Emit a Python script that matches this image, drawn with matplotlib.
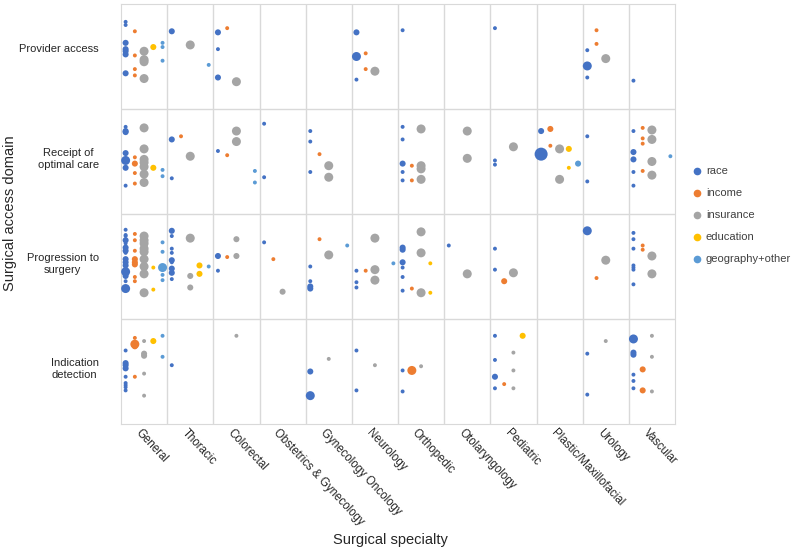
import matplotlib
matplotlib.use("Agg")
import matplotlib.pyplot as plt
from matplotlib.lines import Line2D

plt.rcParams['font.family'] = ['Liberation Sans', 'DejaVu Sans']

specialties = ["General", "Thoracic", "Colorectal", "Obstetrics & Gynecology",
               "Gynecology Oncology", "Neurology", "Orthopedic", "Otolaryngology",
               "Pediatric", "Plastic/Maxillofacial", "Urology", "Vascular"]
domains = ["Indication\ndetection", "Progression to\nsurgery",
           "Receipt of\noptimal care", "Provider access"]
domain_label_y = [0.54, 1.54, 2.54, 3.58]

categories = ["race", "income", "insurance", "education", "geography+other"]
colors = ["#4472C4", "#ED7D31", "#A5A5A5", "#FFC000", "#5B9BD5"]
cat_offset = [0.1, 0.3, 0.5, 0.7, 0.9]
size_area = {1: 8, 2: 19, 3: 42, 5: 88}

# (specialty, y position, size class)
race = [
    # provider access
    ("General", 3.83, 1), ("General", 3.80, 1), ("General", 3.63, 2), ("General", 3.57, 2),
    ("General", 3.55, 2), ("General", 3.52, 2), ("General", 3.34, 2),
    ("Thoracic", 3.74, 2), ("Colorectal", 3.73, 2), ("Colorectal", 3.57, 1), ("Colorectal", 3.30, 2),
    ("Neurology", 3.73, 2), ("Neurology", 3.50, 3), ("Neurology", 3.28, 1),
    ("Orthopedic", 3.75, 1), ("Pediatric", 3.77, 1),
    ("Urology", 3.56, 1), ("Urology", 3.41, 3), ("Urology", 3.30, 1), ("Vascular", 3.27, 1),
    # receipt of optimal care
    ("General", 2.83, 1), ("General", 2.79, 2), ("General", 2.78, 2), ("General", 2.58, 2),
    ("General", 2.51, 3), ("General", 2.44, 2), ("General", 2.27, 1),
    ("Thoracic", 2.71, 2), ("Thoracic", 2.34, 1), ("Colorectal", 2.60, 1),
    ("Obstetrics & Gynecology", 2.86, 1), ("Obstetrics & Gynecology", 2.35, 1),
    ("Gynecology Oncology", 2.79, 1), ("Gynecology Oncology", 2.69, 1), ("Gynecology Oncology", 2.40, 1),
    ("Orthopedic", 2.83, 1), ("Orthopedic", 2.71, 1), ("Orthopedic", 2.48, 2),
    ("Orthopedic", 2.40, 1), ("Orthopedic", 2.32, 1),
    ("Pediatric", 2.51, 1), ("Pediatric", 2.47, 1),
    ("Plastic/Maxillofacial", 2.79, 2), ("Plastic/Maxillofacial", 2.57, 5),
    ("Urology", 2.74, 1), ("Urology", 2.31, 1),
    ("Vascular", 2.79, 1), ("Vascular", 2.59, 2), ("Vascular", 2.52, 2),
    ("Vascular", 2.40, 1), ("Vascular", 2.27, 1),
    # progression to surgery
    ("General", 1.85, 1), ("General", 1.80, 1), ("General", 1.79, 1), ("General", 1.75, 2),
    ("General", 1.72, 1), ("General", 1.68, 2), ("General", 1.65, 2), ("General", 1.63, 1),
    ("General", 1.57, 2), ("General", 1.54, 2), ("General", 1.51, 2), ("General", 1.45, 3),
    ("General", 1.41, 2), ("General", 1.36, 1), ("General", 1.29, 3),
    ("Thoracic", 1.84, 2), ("Thoracic", 1.79, 1), ("Thoracic", 1.67, 1), ("Thoracic", 1.63, 1),
    ("Thoracic", 1.56, 2), ("Thoracic", 1.54, 1), ("Thoracic", 1.48, 2), ("Thoracic", 1.44, 2),
    ("Thoracic", 1.38, 1),
    ("Colorectal", 1.60, 2), ("Colorectal", 1.46, 1), ("Obstetrics & Gynecology", 1.73, 1),
    ("Gynecology Oncology", 1.50, 1), ("Gynecology Oncology", 1.36, 1),
    ("Gynecology Oncology", 1.31, 2), ("Gynecology Oncology", 1.29, 2),
    ("Neurology", 1.46, 1), ("Neurology", 1.35, 1), ("Neurology", 1.30, 1),
    ("Orthopedic", 1.68, 2), ("Orthopedic", 1.66, 2), ("Orthopedic", 1.54, 2),
    ("Orthopedic", 1.49, 1), ("Orthopedic", 1.40, 1), ("Orthopedic", 1.27, 1),
    ("Otolaryngology", 1.70, 1), ("Pediatric", 1.67, 1), ("Pediatric", 1.47, 1),
    ("Urology", 1.84, 3),
    ("Vascular", 1.82, 1), ("Vascular", 1.76, 1), ("Vascular", 1.67, 1), ("Vascular", 1.51, 1),
    ("Vascular", 1.49, 1), ("Vascular", 1.47, 1), ("Vascular", 1.33, 1),
    # indication detection
    ("General", 0.70, 1), ("General", 0.58, 2), ("General", 0.56, 2), ("General", 0.53, 2),
    ("General", 0.45, 1), ("General", 0.39, 1), ("General", 0.37, 1), ("General", 0.35, 1),
    ("General", 0.32, 1), ("Thoracic", 0.56, 1),
    ("Gynecology Oncology", 0.50, 2), ("Gynecology Oncology", 0.27, 3),
    ("Neurology", 0.70, 1), ("Neurology", 0.32, 1), ("Orthopedic", 0.51, 1), ("Orthopedic", 0.31, 1),
    ("Pediatric", 0.84, 1), ("Pediatric", 0.61, 1), ("Pediatric", 0.45, 2), ("Pediatric", 0.34, 1),
    ("Urology", 0.67, 1), ("Urology", 0.28, 1),
    ("Vascular", 0.81, 3), ("Vascular", 0.68, 2), ("Vascular", 0.66, 2), ("Vascular", 0.47, 1),
    ("Vascular", 0.41, 1), ("Vascular", 0.34, 1),
]

income = [
    ("General", 3.74, 1), ("General", 3.51, 1), ("General", 3.38, 1), ("General", 3.32, 1),
    ("Colorectal", 3.77, 1), ("Neurology", 3.53, 1), ("Neurology", 3.38, 1),
    ("Urology", 3.75, 1), ("Urology", 3.62, 1),
    ("General", 2.54, 1), ("General", 2.48, 2), ("General", 2.39, 1), ("General", 2.29, 1),
    ("Thoracic", 2.74, 1), ("Colorectal", 2.56, 1), ("Gynecology Oncology", 2.57, 1),
    ("Orthopedic", 2.46, 1), ("Orthopedic", 2.32, 1),
    ("Plastic/Maxillofacial", 2.81, 2), ("Plastic/Maxillofacial", 2.65, 1),
    ("Vascular", 2.82, 1), ("Vascular", 2.72, 1), ("Vascular", 2.67, 1), ("Vascular", 2.41, 1),
    ("General", 1.81, 1), ("General", 1.75, 1), ("General", 1.65, 1), ("General", 1.57, 2),
    ("General", 1.54, 2), ("General", 1.52, 2), ("General", 1.40, 1), ("General", 1.36, 1),
    ("Colorectal", 1.59, 1), ("Obstetrics & Gynecology", 1.57, 1), ("Gynecology Oncology", 1.76, 1),
    ("Neurology", 1.46, 1), ("Orthopedic", 1.29, 1), ("Pediatric", 1.36, 2),
    ("Urology", 1.39, 1), ("Vascular", 1.70, 1), ("Vascular", 1.66, 1),
    ("General", 0.82, 1), ("General", 0.76, 3), ("General", 0.74, 2), ("General", 0.45, 1),
    ("Orthopedic", 0.51, 3), ("Pediatric", 0.38, 1), ("Vascular", 0.52, 2), ("Vascular", 0.32, 2),
]

insurance = [
    ("General", 3.55, 3), ("General", 3.47, 3), ("General", 3.45, 3), ("General", 3.29, 3),
    ("Thoracic", 3.61, 3), ("Colorectal", 3.26, 3), ("Neurology", 3.36, 3), ("Urology", 3.48, 3),
    ("General", 2.82, 3), ("General", 2.62, 3), ("General", 2.52, 3), ("General", 2.49, 3),
    ("General", 2.45, 3), ("General", 2.38, 3), ("General", 2.30, 3),
    ("Thoracic", 2.55, 3), ("Colorectal", 2.79, 3), ("Colorectal", 2.69, 3),
    ("Gynecology Oncology", 2.46, 3), ("Gynecology Oncology", 2.35, 3),
    ("Orthopedic", 2.81, 3), ("Orthopedic", 2.46, 3), ("Orthopedic", 2.43, 3), ("Orthopedic", 2.33, 3),
    ("Otolaryngology", 2.79, 3), ("Otolaryngology", 2.53, 3), ("Pediatric", 2.64, 3),
    ("Plastic/Maxillofacial", 2.62, 3), ("Plastic/Maxillofacial", 2.33, 3),
    ("Vascular", 2.80, 3), ("Vascular", 2.71, 3), ("Vascular", 2.50, 3), ("Vascular", 2.37, 3),
    ("General", 1.79, 3), ("General", 1.75, 3), ("General", 1.72, 3), ("General", 1.67, 3),
    ("General", 1.64, 3), ("General", 1.57, 3), ("General", 1.50, 3), ("General", 1.43, 3),
    ("General", 1.25, 3),
    ("Thoracic", 1.77, 3), ("Thoracic", 1.41, 2), ("Thoracic", 1.30, 2),
    ("Colorectal", 1.76, 2), ("Colorectal", 1.60, 2), ("Obstetrics & Gynecology", 1.26, 2),
    ("Gynecology Oncology", 1.61, 3),
    ("Neurology", 1.77, 3), ("Neurology", 1.47, 3), ("Neurology", 1.37, 3),
    ("Orthopedic", 1.83, 3), ("Orthopedic", 1.63, 3), ("Orthopedic", 1.25, 3),
    ("Otolaryngology", 1.43, 3), ("Pediatric", 1.44, 3), ("Urology", 1.56, 3),
    ("Vascular", 1.60, 3), ("Vascular", 1.43, 3),
    ("General", 0.79, 1), ("General", 0.67, 2), ("General", 0.65, 2), ("General", 0.48, 1),
    ("General", 0.27, 1), ("Colorectal", 0.84, 1), ("Gynecology Oncology", 0.62, 1),
    ("Neurology", 0.56, 1), ("Orthopedic", 0.55, 1),
    ("Pediatric", 0.68, 1), ("Pediatric", 0.51, 1), ("Pediatric", 0.34, 1), ("Urology", 0.79, 1),
    ("Vascular", 0.84, 1), ("Vascular", 0.64, 1), ("Vascular", 0.31, 1),
]

education = [
    ("General", 3.59, 2),
    ("General", 2.44, 2), ("Plastic/Maxillofacial", 2.62, 2), ("Plastic/Maxillofacial", 2.44, 1),
    ("General", 1.49, 1), ("General", 1.28, 1), ("Thoracic", 1.51, 2), ("Thoracic", 1.43, 2),
    ("Orthopedic", 1.53, 1), ("Orthopedic", 1.25, 1),
    ("General", 0.79, 2), ("Pediatric", 0.84, 2),
]

geography = [
    ("General", 3.63, 1), ("General", 3.59, 1), ("General", 3.46, 1), ("Thoracic", 3.42, 1),
    ("General", 2.42, 1), ("General", 2.36, 1), ("Colorectal", 2.41, 1), ("Colorectal", 2.30, 1),
    ("Plastic/Maxillofacial", 2.48, 2), ("Vascular", 2.55, 1),
    ("General", 1.73, 1), ("General", 1.64, 1), ("General", 1.49, 3), ("General", 1.42, 1),
    ("General", 1.37, 1), ("Thoracic", 1.50, 1), ("Gynecology Oncology", 1.70, 1),
    ("Neurology", 1.53, 1),
    ("General", 0.84, 1), ("General", 0.64, 1),
]

series = [race, income, insurance, education, geography]

fig = plt.figure(figsize=(8, 5.52), dpi=100)
ax = fig.add_axes([121 / 800, 1 - 424 / 552, 554 / 800, 420 / 552])

for k, pts in enumerate(series):
    xs = [specialties.index(p[0]) + cat_offset[k] for p in pts]
    ys = [p[1] for p in pts]
    ss = [size_area[p[2]] for p in pts]
    ax.scatter(xs, ys, s=ss, color=colors[k], linewidths=0, zorder=3)

ax.set_xlim(0, 12)
ax.set_ylim(0, 4)
for i in range(1, 12):
    ax.axvline(i, color="#D9D9D9", lw=1, zorder=1)
for j in range(1, 4):
    ax.axhline(j, color="#D9D9D9", lw=1, zorder=1)
for sp in ax.spines.values():
    sp.set_color("#D9D9D9")

ax.set_xticks([])
ax.set_yticks(domain_label_y)
ax.set_yticklabels(domains, fontsize=8, multialignment="center", color="#262626")
ax.tick_params(axis="y", length=0, pad=16)

for i, name in enumerate(specialties):
    ax.text(i + 0.45, -0.025, name, rotation=-47, rotation_mode="anchor",
            ha="left", va="top", fontsize=8.3, color="#262626")

fig.text(390 / 800, 1 - 540 / 552, "Surgical specialty", ha="center", va="center",
         fontsize=10.5, color="#262626")
fig.text(10 / 800, 1 - 213 / 552, "Surgical access domain", ha="center", va="center",
         rotation=90, fontsize=10.5, color="#262626")

handles = [Line2D([], [], marker="o", ls="", color=c, markersize=4.5) for c in colors]
fig.legend(handles, categories, loc="upper left", bbox_to_anchor=(686 / 800, 1 - 162 / 552),
           frameon=False, fontsize=8, handletextpad=0.2, labelspacing=1.08,
           handlelength=1.2, borderaxespad=0, labelcolor="#404040")

fig.savefig("out.png", dpi=100)
